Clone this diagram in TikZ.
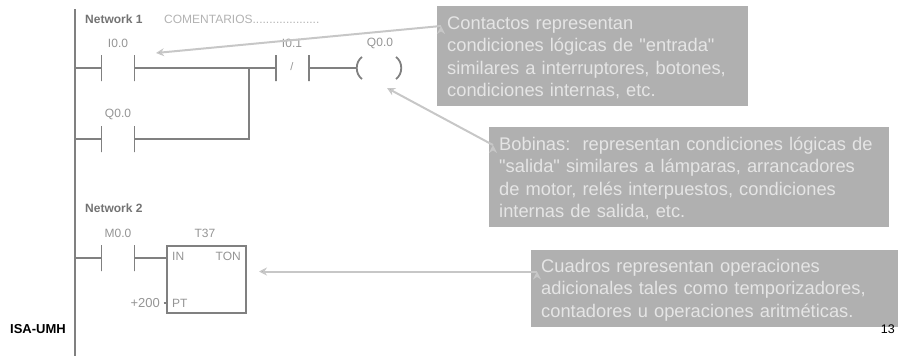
\documentclass[tikz,border=0pt]{standalone}
\usepackage{fontspec}
\usetikzlibrary{arrows.meta}
\setmainfont[Ligatures=TeXOff]{Liberation Sans}
\begin{document}
\begin{tikzpicture}[x=1pt, y=-1pt, >={Stealth[length=8pt, width=8pt]},
		wire/.style={draw=black!50, line width=1.3pt},
		plate/.style={draw=black!50, line width=1.3pt, minimum width=0pt, minimum height=26pt, inner sep=0pt},
		lbl/.style={text=black!42, inner sep=0pt, font=\fontsize{12}{14}\selectfont},
		net/.style={text=black!55, inner sep=0pt, anchor=west, font=\bfseries\fontsize{12}{14}\selectfont},
		callout/.style={fill=black!31, text=black!10, anchor=north west, align=left, inner ysep=0pt, inner xsep=10pt, font=\fontsize{18.3}{22.6}\selectfont, execute at begin node={\rule{0pt}{16pt}}},
		pointer/.style={->, draw=black!22, line width=2pt}]
			\useasboundingbox (0, 0) rectangle (898, 356);

			\coordinate (railtop) at (75, 9);
			\coordinate (railend) at (75, 356);
			\coordinate (rail1) at (75, 68);
			\coordinate (rail2) at (75, 139);
			\coordinate (rail3) at (75, 258);
			\coordinate (join) at (249, 68);
			\draw[wire] (railtop) edge (railend);

			\node[net] (net1) at (85, 19) {Network 1};
			\node[lbl, text=black!30, anchor=west] (comment) at (164, 19) {COMENTARIOS....................};
			\node[net] (net2) at (85, 208) {Network 2};

			\node[lbl] (li00) at (118, 43) {I0.0};
			\node[plate] (a1) at (101.5, 68) {};
			\node[plate] (a2) at (134.5, 68) {};
			\node[lbl] (li01) at (292, 43) {I0.1};
			\node[plate] (b1) at (276, 68) {};
			\node[plate] (b2) at (309, 68) {};
			\node[lbl, font=\fontsize{11}{12}\selectfont] (slash) at (292, 67) {/};
			\node[lbl] (lq00) at (380, 43) {Q0.0};
			\node[lbl] (lq01) at (118, 114) {Q0.0};
			\node[plate] (c1) at (101.5, 139) {};
			\node[plate] (c2) at (134.5, 139) {};
			\node[lbl] (lm00) at (118, 233) {M0.0};
			\node[plate] (d1) at (101.5, 258) {};
			\node[plate] (d2) at (134.5, 258) {};
			\coordinate (coilin) at (356, 68);

			\draw[wire] (rail1) edge (a1);
			\draw[wire] (a2) edge (b1);
			\draw[wire] (b2) edge (coilin);
			\draw[wire] (rail2) edge (c1);
			\draw[wire] (c2) -| (join);
			\draw[wire] (rail3) edge (d1);

			\draw[wire, line width=1.8pt] (362, 57) .. controls (355, 62) and (355, 74) .. (362, 79);
			\draw[wire, line width=1.8pt] (396, 57) .. controls (403, 62) and (403, 74) .. (396, 79);

			\node[draw=black!50, line width=1.3pt, minimum width=79pt, minimum height=67pt, inner sep=0pt] (ton) at (206.5, 279.5) {};
			\node[lbl] (lt37) at (205, 233) {T37};
			\node[lbl, anchor=west] (lin) at (172, 256) {IN};
			\node[lbl, anchor=east] (lon) at (241, 256) {TON};
			\node[lbl, anchor=west] (lpt) at (172, 303) {PT};
			\node[lbl, anchor=east, font=\fontsize{13}{14}\selectfont] (l200) at (160, 303) {+200};
			\coordinate (tonin) at (167, 258);
			\coordinate (tonpt) at (167, 303);
			\coordinate (tick) at (163.5, 303);
			\draw[wire] (d2) edge (tonin);
			\draw[wire] (tick) edge (tonpt);

			\node[callout, minimum width=311pt, minimum height=100pt, text width=291pt] (box1) at (437, 6) {Contactos representan\\condiciones lógicas de "entrada"\\similares a interruptores, botones,\\condiciones internas, etc.};
			\node[callout, minimum width=400pt, minimum height=100pt, text width=380pt] (box2) at (489, 127) {Bobinas:\ \ representan condiciones lógicas de\\"salida" similares a lámparas, arrancadores\\de motor, relés interpuestos, condiciones\\internas de salida, etc.};
			\node[callout, minimum width=367pt, minimum height=77pt, text width=347pt] (box3) at (531, 250) {Cuadros representan operaciones\\adicionales tales como temporizadores,\\contadores u operaciones aritméticas.};

			\coordinate (from1) at (441, 26);
			\coordinate (to1) at (156, 53);
			\coordinate (from2) at (493, 145);
			\coordinate (to2) at (387, 88);
			\coordinate (from3) at (537, 271.5);
			\coordinate (to3) at (259, 271.5);
			\draw[pointer] (from1) edge (to1);
			\draw[pointer] (from2) edge (to2);
			\draw[pointer] (from3) edge (to3);

			\node[anchor=west, inner sep=0pt, font=\bfseries\fontsize{13}{15}\selectfont] (isa) at (10, 329) {ISA-UMH};
			\node[anchor=east, inner sep=0pt, font=\fontsize{12.5}{15}\selectfont] (page) at (895, 329) {13};
		\end{tikzpicture}
\end{document}
